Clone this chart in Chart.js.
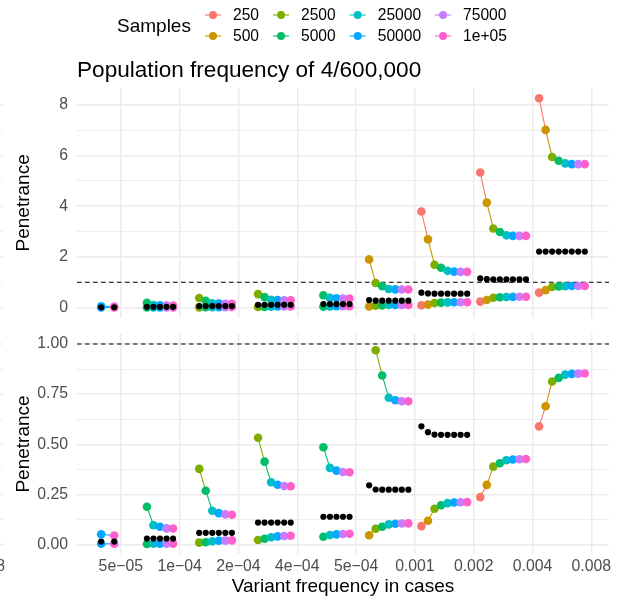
<!DOCTYPE html>
<html>
<head>
<meta charset="utf-8">
<script src="https://cdn.jsdelivr.net/npm/chart.js@4/dist/chart.umd.min.js"></script>
<style>
  html, body { margin: 0; padding: 0; background: #ffffff; }
  #wrap { position: relative; width: 623px; height: 602px; }
  #topPanel { position: absolute; left: 0; top: 0; }
  #bottomPanel { position: absolute; left: 0; top: 318px; }
</style>
</head>
<body>
<div id="wrap">
  <canvas id="topPanel" width="623" height="318"></canvas>
  <canvas id="bottomPanel" width="623" height="284"></canvas>
</div>
<script>
// ---- data -------------------------------------------------------------
const samples = ['250', '500', '2500', '5000', '25000', '50000', '75000', '1e+05'];
const sampleColors = ['#F8766D', '#CD9600', '#7CAE00', '#00BE67', '#00BFC4', '#00A9FF', '#C77CFF', '#FF61CC'];
const freqLabels = ['5e\u221205', '1e\u221204', '2e\u221204', '4e\u221204', '5e\u221204', '0.001', '0.002', '0.004', '0.008'];

// rows follow freqLabels, columns follow samples (null = not computed)
const upperBound = [
  [null, null, null, null, null, 0.051, null, 0.044],
  [null, null, null, 0.188, 0.096, 0.088, 0.080, 0.079],
  [null, null, 0.377, 0.268, 0.168, 0.156, 0.150, 0.148],
  [null, null, 0.532, 0.413, 0.310, 0.298, 0.291, 0.290],
  [null, null, null, 0.485, 0.382, 0.368, 0.361, 0.360],
  [null, 1.90, 0.969, 0.843, 0.732, 0.719, 0.714, 0.714],
  [3.79, 2.69, 1.69, 1.57, 1.45, 1.42, 1.41, 1.41],
  [5.33, 4.14, 3.12, 2.98, 2.85, 2.83, 2.83, 2.83],
  [8.26, 7.01, 5.94, 5.79, 5.69, 5.66, 5.66, 5.66]
];
const lowerBound = [
  [null, null, null, null, null, 0.003, null, 0.003],
  [null, null, null, 0.002, 0.003, 0.004, 0.004, 0.004],
  [null, null, 0.009, 0.011, 0.016, 0.018, 0.019, 0.020],
  [null, null, 0.022, 0.028, 0.036, 0.040, 0.042, 0.043],
  [null, null, null, 0.038, 0.047, 0.050, 0.052, 0.053],
  [null, 0.046, 0.078, 0.088, 0.100, 0.103, 0.104, 0.105],
  [0.091, 0.118, 0.178, 0.195, 0.206, 0.209, 0.210, 0.211],
  [0.236, 0.297, 0.388, 0.405, 0.420, 0.424, 0.425, 0.426],
  [0.589, 0.689, 0.813, 0.831, 0.847, 0.851, 0.852, 0.853]
];
const estimate = [
  [null, null, null, null, null, 0.014, null, 0.014],
  [null, null, null, 0.029, 0.029, 0.029, 0.029, 0.029],
  [null, null, 0.058, 0.058, 0.058, 0.058, 0.058, 0.058],
  [null, null, 0.109, 0.109, 0.109, 0.109, 0.109, 0.109],
  [null, null, null, 0.138, 0.138, 0.138, 0.138, 0.138],
  [null, 0.295, 0.274, 0.273, 0.273, 0.273, 0.273, 0.273],
  [0.589, 0.560, 0.548, 0.547, 0.547, 0.547, 0.547, 0.547],
  [1.15, 1.12, 1.11, 1.11, 1.11, 1.11, 1.11, 1.11],
  [2.21, 2.21, 2.21, 2.21, 2.21, 2.21, 2.21, 2.21]
];
const referenceLevel = 1;
const topBreaks = [0, 2, 4, 6, 8];
const bottomBreaks = [0, 0.25, 0.5, 0.75, 1];

// ---- helpers ----------------------------------------------------------
const FONT = '"Liberation Sans", Arial, Helvetica, sans-serif';
const GRID = '#EBEBEB';
const TICK_COLOR = '#4D4D4D';

// dodge samples to the left of each frequency break
function slot(g, s) { return g - (samples.length - s) / (samples.length + 1); }

function buildSeries(rows, cap) {
  const pts = [];
  rows.forEach((row, g) => {
    row.forEach((v, s) => {
      if (v === null) return;
      pts.push({ x: slot(g, s), y: (cap !== undefined && v > cap) ? null : v, s });
    });
    pts.push({ x: g, y: null, s: -1 }); // break the path between frequencies
  });
  return pts;
}

function allValues(cap) {
  const out = [referenceLevel];
  [upperBound, lowerBound, estimate].forEach(rows => rows.forEach(r => r.forEach(v => {
    if (v !== null && (cap === undefined || v <= cap)) out.push(v);
  })));
  return out;
}

function padded(lo, hi) { const p = (hi - lo) * 0.05; return [lo - p, hi + p]; }

function withMinor(breaks) {
  const ticks = [];
  breaks.forEach((b, i) => {
    ticks.push({ value: b, minor: false });
    if (i < breaks.length - 1) ticks.push({ value: (b + breaks[i + 1]) / 2, minor: true });
  });
  return ticks;
}

const usedSlots = [];
upperBound.forEach((row, g) => row.forEach((v, s) => { if (v !== null) usedSlots.push(slot(g, s)); }));
const xRange = padded(Math.min(...usedSlots), Math.max(...usedSlots));

function pathDataset(rows, cap) {
  const pts = buildSeries(rows, cap);
  return {
    data: pts,
    showLine: true,
    spanGaps: false,
    borderWidth: 1.1,
    borderColor: '#999',
    segment: { borderColor: ctx => sampleColors[pts[ctx.p0DataIndex].s] },
    pointRadius: 4.3,
    pointBorderWidth: 0,
    pointBackgroundColor: ctx => (ctx.raw && ctx.raw.s >= 0) ? sampleColors[ctx.raw.s] : 'transparent',
    order: 2
  };
}

function estimateDataset(cap) {
  return {
    data: buildSeries(estimate, cap),
    showLine: false,
    pointRadius: 3.1,
    pointBorderWidth: 0,
    pointBackgroundColor: '#000000',
    order: 1
  };
}

const refLine = {
  id: 'refLine',
  beforeDatasetsDraw(chart) {
    const { ctx, chartArea, scales } = chart;
    const y = scales.y.getPixelForValue(referenceLevel);
    ctx.save();
    ctx.strokeStyle = '#000000';
    ctx.lineWidth = 1.2;
    ctx.setLineDash([4.5, 3.5]);
    ctx.beginPath();
    ctx.moveTo(chartArea.left, y);
    ctx.lineTo(chartArea.right, y);
    ctx.stroke();
    ctx.restore();
  }
};

// trailing grid edges of the adjacent panel on the far left
const edgeStubs = {
  id: 'edgeStubs',
  afterDraw(chart) {
    const { ctx, scales } = chart;
    ctx.save();
    ctx.strokeStyle = GRID;
    scales.y.ticks.forEach(t => {
      const y = scales.y.getPixelForValue(t.value);
      ctx.lineWidth = t.minor ? 0.9 : 1.4;
      ctx.beginPath();
      ctx.moveTo(0, y);
      ctx.lineTo(3, y);
      ctx.stroke();
    });
    ctx.restore();
  }
};

const sampleLegend = {
  id: 'sampleLegend',
  afterDraw(chart) {
    const { ctx } = chart;
    ctx.save();
    ctx.fillStyle = '#000000';
    ctx.textBaseline = 'middle';
    ctx.textAlign = 'left';
    ctx.font = '19px ' + FONT;
    ctx.fillText('Samples', 117, 27);
    ctx.font = '15.6px ' + FONT;
    const rows = [15, 36];
    let keyX = 213;
    for (let c = 0; c < samples.length / 2; c++) {
      let widest = 0;
      for (let r = 0; r < 2; r++) {
        const i = c * 2 + r;
        const y = rows[r];
        ctx.strokeStyle = sampleColors[i];
        ctx.lineWidth = 1.1;
        ctx.beginPath();
        ctx.moveTo(keyX - 8, y);
        ctx.lineTo(keyX + 8, y);
        ctx.stroke();
        ctx.fillStyle = sampleColors[i];
        ctx.beginPath();
        ctx.arc(keyX, y, 4, 0, Math.PI * 2);
        ctx.fill();
        ctx.fillStyle = '#000000';
        ctx.fillText(samples[i], keyX + 20, y + 1);
        widest = Math.max(widest, ctx.measureText(samples[i]).width);
      }
      keyX = keyX + 20 + widest + 22;
    }
    ctx.restore();
  }
};

const edgeLabel = {
  id: 'edgeLabel',
  afterDraw(chart) {
    const { ctx, chartArea } = chart;
    ctx.save();
    ctx.fillStyle = TICK_COLOR;
    ctx.font = '15.8px ' + FONT;
    ctx.textAlign = 'right';
    ctx.textBaseline = 'middle';
    ctx.fillText('0.008', 5, chartArea.bottom + 3 + 9.5);
    ctx.restore();
  }
};

function yAxis(range, breaks, fmt) {
  return {
    type: 'linear',
    min: range[0],
    max: range[1],
    afterBuildTicks: s => { s.ticks = withMinor(breaks); },
    afterFit: s => {
      s.width = 77;
      s.paddingTop = 0;
      s.paddingBottom = 0;
    },
    border: { display: false },
    grid: {
      color: GRID,
      drawTicks: false,
      lineWidth: ctx => (ctx.tick && ctx.tick.minor) ? 0.9 : 1.4
    },
    ticks: {
      color: TICK_COLOR,
      font: { family: FONT, size: 15.8 },
      padding: 9,
      callback: (v, i, ticks) => ticks[i].minor ? '' : fmt(v)
    },
    title: {
      display: true,
      text: 'Penetrance',
      color: '#000000',
      font: { family: FONT, size: 19 },
      padding: { top: 12.6, bottom: 0 }
    }
  };
}

function xAxis(showLabels) {
  return {
    type: 'linear',
    min: xRange[0],
    max: xRange[1],
    afterBuildTicks: s => { s.ticks = freqLabels.map((_, i) => ({ value: i })); },
    afterFit: s => {
      s.height = showLabels ? 48 : 0;
      s.paddingLeft = 0;
      s.paddingRight = 0;
    },
    border: { display: false },
    grid: { color: GRID, lineWidth: 1.4, drawTicks: false },
    ticks: {
      display: showLabels,
      color: TICK_COLOR,
      font: { family: FONT, size: 15.8 },
      padding: 3,
      maxRotation: 0,
      autoSkip: false,
      callback: v => freqLabels[v]
    },
    title: {
      display: showLabels,
      text: 'Variant frequency in cases',
      color: '#000000',
      font: { family: FONT, size: 19 },
      padding: { top: 0, bottom: 4 }
    }
  };
}

Chart.defaults.font.family = FONT;

// ---- upper panel: every value ------------------------------------------
const topVals = allValues();
new Chart(document.getElementById('topPanel'), {
  type: 'scatter',
  data: {
    datasets: [
      estimateDataset(),
      pathDataset(upperBound),
      pathDataset(lowerBound)
    ]
  },
  options: {
    responsive: false,
    maintainAspectRatio: false,
    animation: false,
    events: [],
    layout: { autoPadding: false, padding: { top: 50, right: 14, bottom: 0, left: 0 } },
    plugins: {
      legend: { display: false },
      tooltip: { enabled: false },
      title: {
        display: true,
        text: 'Population frequency of 4/600,000',
        align: 'start',
        fullSize: false,
        color: '#000000',
        font: { family: FONT, size: 22.6, weight: 'normal' },
        padding: { top: 6.8, bottom: 3.8 }
      }
    },
    scales: {
      x: xAxis(false),
      y: yAxis(padded(Math.min(...topVals), Math.max(...topVals)), topBreaks, v => String(v))
    }
  },
  plugins: [refLine, edgeStubs, sampleLegend]
});

// ---- lower panel: values up to the reference level ---------------------
const bottomVals = allValues(referenceLevel);
new Chart(document.getElementById('bottomPanel'), {
  type: 'scatter',
  data: {
    datasets: [
      estimateDataset(referenceLevel),
      pathDataset(upperBound, referenceLevel),
      pathDataset(lowerBound, referenceLevel)
    ]
  },
  options: {
    responsive: false,
    maintainAspectRatio: false,
    animation: false,
    events: [],
    layout: { autoPadding: false, padding: { top: 16, right: 14, bottom: 0, left: 0 } },
    plugins: { legend: { display: false }, tooltip: { enabled: false } },
    scales: {
      x: xAxis(true),
      y: yAxis(padded(Math.min(...bottomVals), Math.max(...bottomVals)), bottomBreaks, v => v.toFixed(2))
    }
  },
  plugins: [refLine, edgeStubs, edgeLabel]
});
</script>
</body>
</html>
